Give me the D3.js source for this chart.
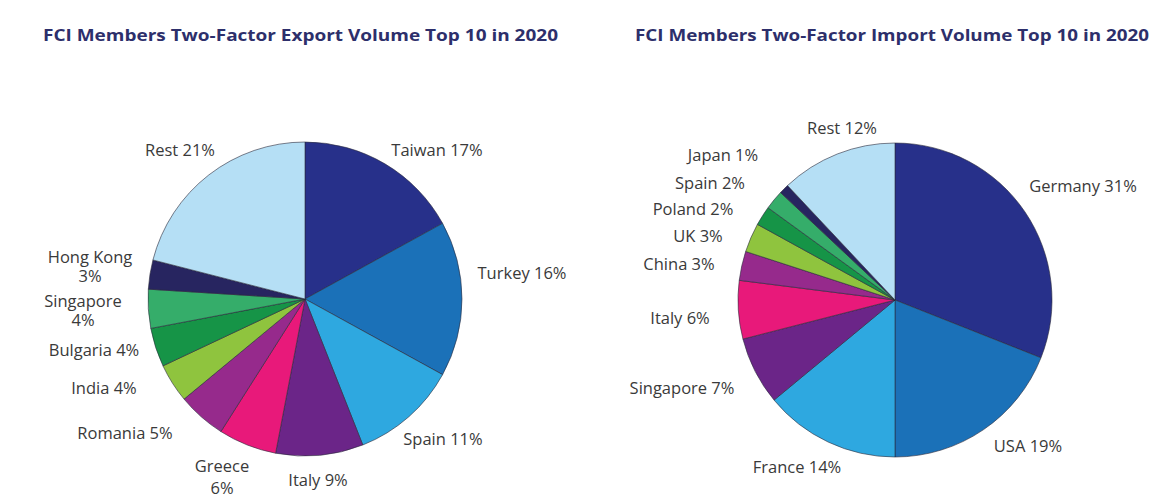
<!DOCTYPE html>
<html>
<head>
<meta charset="utf-8">
<script src="https://cdn.jsdelivr.net/npm/d3@7"></script>
<style>
  body { margin: 0; background: #fff; }
  svg text { font-family: 'Open Sans', 'Noto Sans', sans-serif; }
</style>
</head>
<body>
<div id="chart"></div>
<script>
// ---- data -----------------------------------------------------------------
const exportTitle = 'FCI Members Two-Factor Export Volume Top 10 in 2020';
const exportNames = ['Taiwan', 'Turkey', 'Spain', 'Italy', 'Greece', 'Romania', 'India', 'Bulgaria', 'Singapore', 'Hong Kong', 'Rest'];
const exportValues = [17, 16, 11, 9, 6, 5, 4, 4, 4, 3, 21];

const importTitle = 'FCI Members Two-Factor Import Volume Top 10 in 2020';
const importNames = ['Germany', 'USA', 'France', 'Singapore', 'Italy', 'China', 'UK', 'Poland', 'Spain', 'Japan', 'Rest'];
const importValues = [31, 19, 14, 7, 6, 3, 3, 2, 2, 1, 12];

// ---- layout (not data) ----------------------------------------------------
const width = 1167, height = 498;
const radius = 157;
const sliceColors = ['#27308a', '#1b71b8', '#2ea8e0', '#6b2588', '#e8197a', '#962a8c',
                     '#8fc43e', '#169447', '#35ad6a', '#272560', '#b5dff5'];

// label offsets from pie centre; third value = line gap for two-line labels
const exportLabelPos = [[132, -149], [217, -26], [138, 140], [13, 181], [-83, 178, 22],
                        [-180, 134], [-201, 89], [-211, 51], [-222, 12, 19], [-215, -32, 19], [-125, -149]];
const importLabelPos = [[188, -114], [133, 146], [-98, 167], [-213, 88], [-215, 18],
                        [-216, -36], [-197, -64], [-202, -91], [-185, -117], [-172, -145], [-53, -172]];

const svg = d3.select('#chart').append('svg')
  .attr('viewBox', [0, 0, width, height])
  .attr('width', width)
  .attr('height', height);

const pie = d3.pie().sort(null).value(d => d.value);
const arc = d3.arc().innerRadius(0).outerRadius(radius);

function renderPie(cx, cy, title, titleX, titleLen, names, values, labelPos) {
  const data = names.map((name, i) => ({ name, value: values[i] }));
  const g = svg.append('g').attr('transform', `translate(${cx},${cy})`);

  g.selectAll('path')
    .data(pie(data))
    .join('path')
    .attr('d', arc)
    .attr('fill', (d, i) => sliceColors[i])
    .attr('stroke', '#2a2a3a')
    .attr('stroke-width', 0.6)
    .attr('stroke-linejoin', 'round');

  const labels = g.selectAll('text.lbl')
    .data(data)
    .join('text')
    .attr('class', 'lbl')
    .attr('text-anchor', 'middle')
    .attr('font-size', 16.5)
    .attr('fill', '#3a3a3a');

  labels.each(function (d, i) {
    const [dx, dy, gap] = labelPos[i];
    const t = d3.select(this);
    if (gap) {
      t.append('tspan').attr('x', dx).attr('y', dy - gap / 2).attr('dy', '0.35em').text(d.name);
      t.append('tspan').attr('x', dx).attr('y', dy + gap / 2).attr('dy', '0.35em').text(d.value + '%');
    } else {
      t.attr('x', dx).attr('y', dy).attr('dy', '0.35em').text(`${d.name} ${d.value}%`);
    }
  });

  svg.append('text')
    .attr('x', titleX)
    .attr('y', 35)
    .attr('dy', '0.35em')
    .attr('font-size', 16.5)
    .attr('font-weight', 'bold')
    .attr('fill', '#2d2f6b')
    .attr('textLength', titleLen)
    .attr('lengthAdjust', 'spacingAndGlyphs')
    .text(title);
}

renderPie(305, 299, exportTitle, 43, 515, exportNames, exportValues, exportLabelPos);
renderPie(895, 300, importTitle, 635, 514, importNames, importValues, importLabelPos);
</script>
</body>
</html>
